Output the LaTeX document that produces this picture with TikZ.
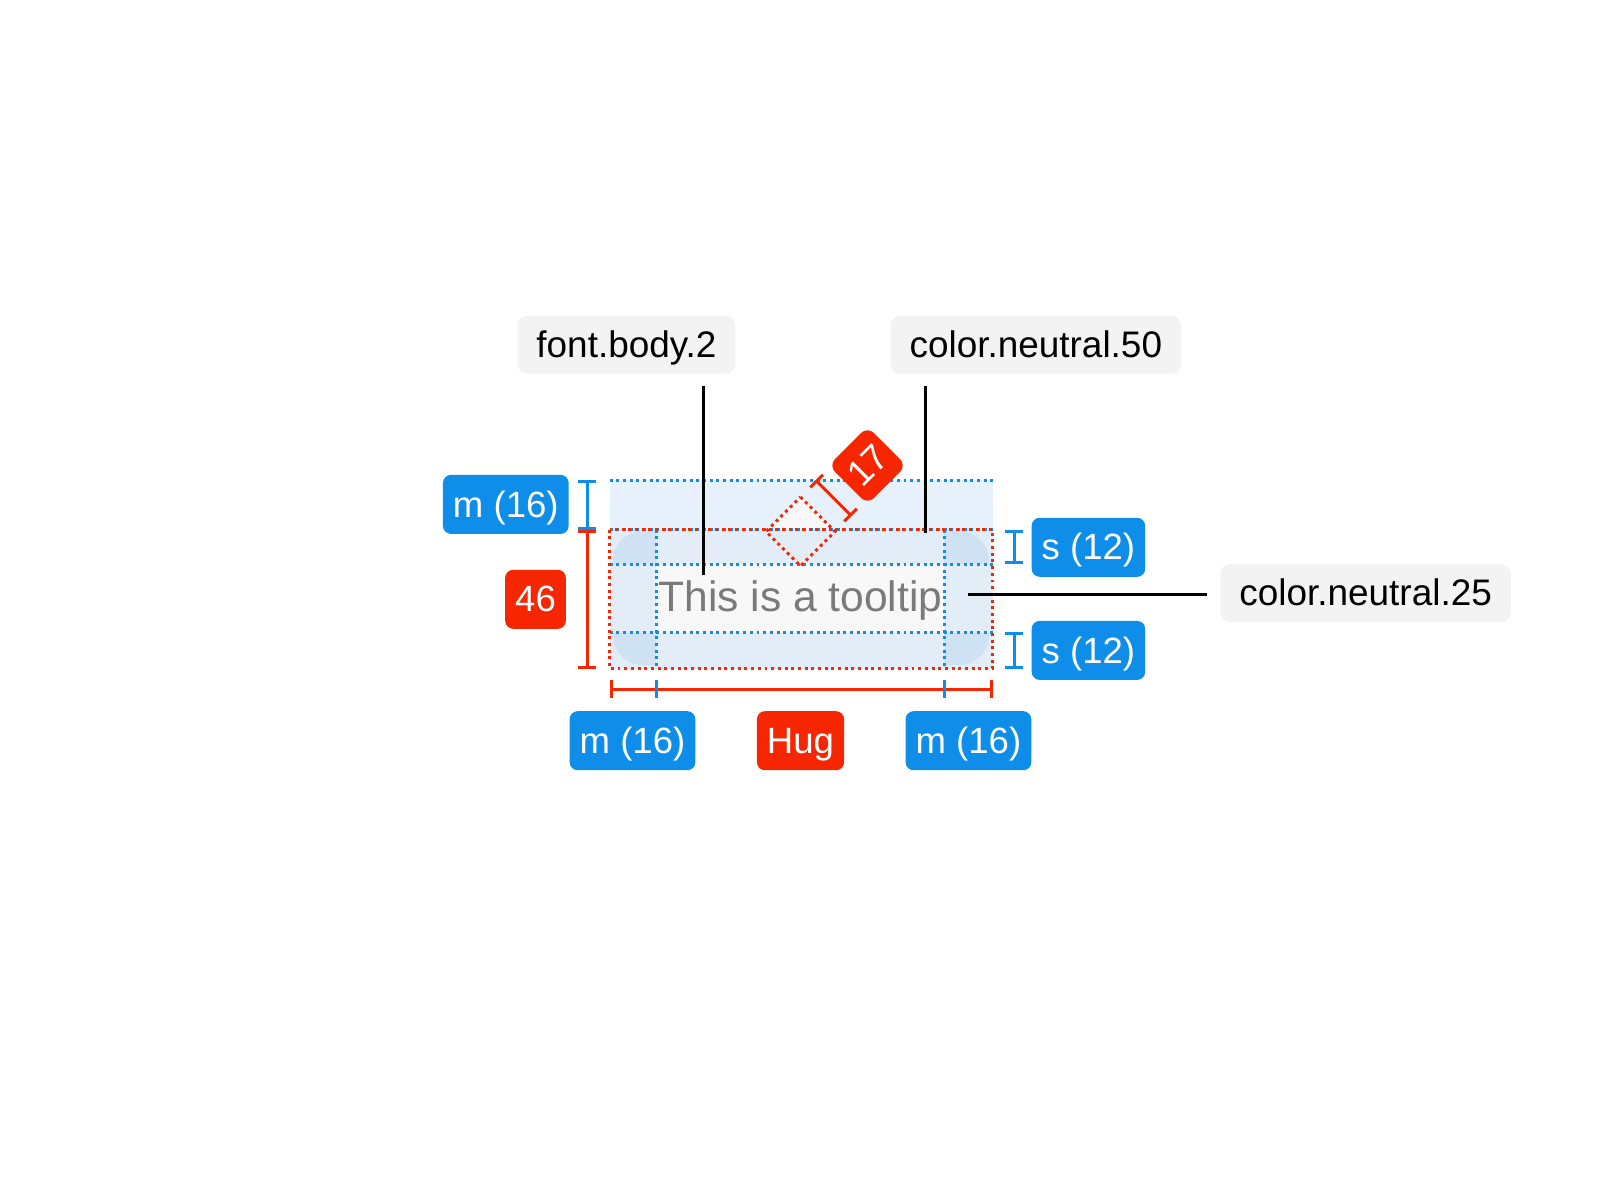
\documentclass[tikz,border=0pt]{standalone}
\usepackage{fontspec}
\setmainfont{Liberation Sans}
\usetikzlibrary{arrows.meta}
\definecolor{cBlue}{RGB}{14,141,233}
\definecolor{cRed}{RGB}{245,38,0}
\definecolor{cTag}{RGB}{243,243,243}
\definecolor{cTopArea}{RGB}{231,241,251}
\definecolor{cPad}{RGB}{226,237,248}
\definecolor{cCorner}{RGB}{206,226,244}
\definecolor{cBody}{RGB}{248,248,248}
\definecolor{cText}{RGB}{122,122,122}

\begin{document}
\begin{tikzpicture}[x=0.01cm,y=-0.01cm,
  tag/.style={fill=cTag,rounded corners=0.1cm,minimum height=0.58cm,inner xsep=0.19cm,
    text height=0.72em,text depth=0em,font=\fontsize{10.5}{12}\selectfont},
  bluetag/.style={fill=cBlue,text=white,rounded corners=0.08cm,minimum height=0.59cm,
    inner xsep=0.1cm,text height=0.72em,text depth=0em,font=\fontsize{10.4}{12}\selectfont},
  redtag/.style={bluetag,fill=cRed},
  leader/.style={line width=0.85pt,black},
  dots/.style={line width=0.85pt,dash pattern=on 0.85pt off 1.05pt},
  reddim/.style={cRed,line width=0.85pt,{Bar[width=0.18cm]}-{Bar[width=0.18cm]}},
  bluedim/.style={cBlue,line width=0.85pt,{Bar[width=0.18cm]}-{Bar[width=0.18cm]}}]
\useasboundingbox (0,0) rectangle (1601,1200);

% tooltip with spacing areas
\fill[cTopArea] (609.5,480) rectangle (992.5,529.5);
\fill[cPad] (609.5,529.5) rectangle (992.5,668.5);
\fill[cCorner,rounded corners=0.3cm] (613,531) rectangle (989,665);
\fill[cPad] (656.4,529.5) rectangle (944.2,668.5);
\fill[cPad] (609.5,564) rectangle (992.5,632.5);
\fill[cBody] (656.4,564) rectangle (944.2,632.5);
\fill[cBody] (768,529.5) -- (800.5,497) -- (833,529.5) -- cycle;

\draw[dots,cBlue] (609.5,480) -- (992.5,480);
\draw[dots,cBlue] (609.5,529.5) -- (992.5,529.5);
\draw[dots,cBlue] (609.5,564) -- (992.5,564);
\draw[dots,cBlue] (609.5,632.5) -- (992.5,632.5);
\draw[dots,cBlue] (656.4,529.5) -- (656.4,668.5);
\draw[dots,cBlue] (944.2,529.5) -- (944.2,668.5);
\draw[dots,cRed] (609.5,529.5) rectangle (992.5,668.5);
\draw[dots,cRed] (800.5,497) -- (835,531.5) -- (800.5,566) -- (766,531.5) -- cycle;

\node[anchor=base,inner sep=0pt,text=cText,font=\fontsize{12.1}{14}\selectfont] (tiptext) at (800.5,611.7) {This is a tooltip};

% token labels
\node[tag] (fontbody) at (626.4,344.6) {font.body.2};
\node[tag] (neutral50) at (1035.8,344.6) {color.neutral.50};
\node[tag] (neutral25) at (1365.6,593.2) {color.neutral.25};

\coordinate (fontend) at (703,575);
\coordinate (n50end) at (925,532.5);
\coordinate (n25end) at (968,594.5);
\draw[leader,shorten <=0.12cm] (fontbody.south -| fontend) -- (fontend);
\draw[leader,shorten <=0.12cm] (neutral50.south -| n50end) -- (n50end);
\draw[leader,shorten <=0.13cm] (neutral25.west |- n25end) -- (n25end);

% dimensions
\draw[bluedim] (587,480) -- (587,529.5);
\draw[reddim] (587,529.5) -- (587,668.5);
\draw[bluedim] (1014,529.5) -- (1014,563.5);
\draw[bluedim] (1014,632) -- (1014,669);
\draw[reddim] (609.5,689) -- (992.5,689);
\draw[cBlue,line width=0.85pt] (656.4,680) -- (656.4,698);
\draw[cBlue,line width=0.85pt] (944.2,680) -- (944.2,698);
\draw[reddim] (815.5,480) -- (851.5,516);

% badges
\node[bluetag] (mtop) at (505.8,504.4) {m (16)};
\node[redtag] (h46) at (535.5,599.3) {46};
\node[bluetag] (stop) at (1088.4,547.3) {s (12)};
\node[bluetag] (sbot) at (1088.4,650.4) {s (12)};
\node[bluetag] (mleft) at (632.5,740.7) {m (16)};
\node[redtag] (hug) at (800.5,740.7) {Hug};
\node[bluetag] (mright) at (968.4,740.7) {m (16)};
\node[redtag,rotate=45,minimum width=0.55cm,minimum height=0.55cm,inner sep=0pt,
  rounded corners=0.09cm] (arrow17) at (867.5,465.5) {17};
\end{tikzpicture}
\end{document}
